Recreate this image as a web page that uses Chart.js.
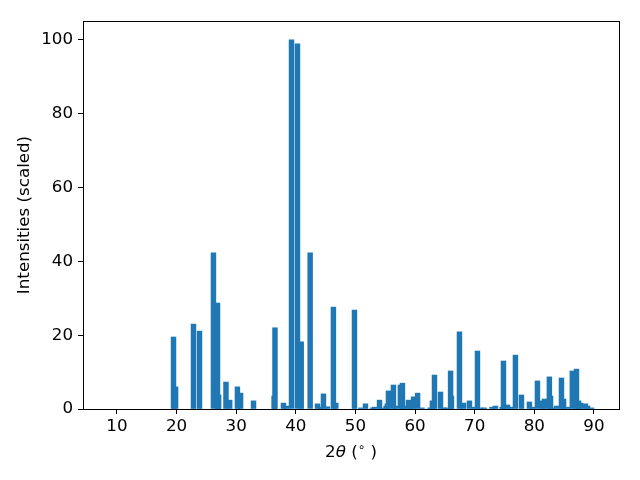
<!DOCTYPE html>
<html>
<head>
<meta charset="utf-8">
<script src="https://cdn.jsdelivr.net/npm/chart.js@4"></script>
<style>
  html, body { margin: 0; padding: 0; background: #fff; }
  canvas { display: block; }
</style>
</head>
<body>
<canvas id="xrd" width="640" height="480"></canvas>
<script>
// peak positions (2theta, degrees) and scaled intensities
const twoTheta = [
  19.48, 19.83, 22.83, 23.84, 26.18, 26.86, 27.05, 28.28, 28.9, 30.2, 30.73, 32.9,
  36.35, 36.5, 37.92, 38.44, 39.27, 40.27, 40.9, 42.4, 43.63, 44.1, 44.63, 45.3,
  46.3, 46.7, 49.83, 50.9, 51.68, 52.85, 53.2, 54.03, 54.38, 55.15, 55.35, 55.53,
  56.37, 56.72, 57.53, 57.88, 58.23, 58.9, 59.24, 59.74, 60.42, 61.15, 62.5, 62.9,
  63.25, 64.26, 64.8, 65.3, 65.95, 66.1, 67.44, 68.13, 69.12, 70.0, 70.46, 71.0,
  71.6, 72.9, 73.48, 74.6, 74.82, 75.5, 76.0, 76.83, 77.84, 79.18, 79.7, 80.52,
  81.3, 81.7, 82.52, 82.72, 83.05, 83.73, 84.55, 84.9, 85.57, 86.37, 87.07, 87.41,
  87.75, 88.57, 88.93, 89.6
];
const intensity = [
  19.5, 6.0, 23.0, 21.1, 42.3, 28.7, 3.8, 7.3, 2.4, 6.0, 4.3, 2.2,
  3.5, 22.0, 1.6, 0.8, 100, 98.9, 18.2, 42.3, 1.4, 0.5, 4.1, 0.6,
  27.6, 1.6, 26.8, 0.3, 1.4, 0.3, 0.5, 2.4, 0.3, 0.8, 1.4, 4.9,
  6.5, 0.8, 6.5, 7.0, 0.8, 2.4, 1.6, 3.3, 4.3, 0.3, 0.3, 2.2,
  9.2, 4.6, 0.3, 0.3, 10.3, 3.5, 20.9, 1.6, 2.2, 0.5, 15.7, 0.3,
  0.3, 0.5, 0.8, 0.5, 13.0, 1.1, 0.5, 14.6, 3.8, 1.9, 0.5, 7.6,
  2.2, 2.7, 8.7, 3.5, 0.3, 0.8, 8.4, 2.7, 0.5, 10.3, 10.8, 2.2,
  1.6, 1.4, 0.8, 0.3
];
const xTicks = [10, 20, 30, 40, 50, 60, 70, 80, 90];
const yTicks = [0, 20, 40, 60, 80, 100];

const FONT = "'DejaVu Sans', sans-serif";
const FS = 16.7;

// black frame round the plot area + the x label with italic theta and raised degree ring
const decorations = {
  id: "decorations",
  afterDraw(chart) {
    const a = chart.chartArea;
    const ctx = chart.ctx;
    ctx.save();
    ctx.strokeStyle = "#000";
    ctx.lineWidth = 1;
    ctx.strokeRect(Math.round(a.left) + 0.5, Math.round(a.top) + 0.5,
      Math.round(a.right - a.left), Math.round(a.bottom - a.top));

    const parts = [
      { t: "2", f: `${FS}px ${FONT}`, dy: 0 },
      { t: "θ", f: `italic ${FS}px ${FONT}`, dy: 0 },
      { t: " (", f: `${FS}px ${FONT}`, dy: 0 },
      { t: "∘", f: `${FS * 0.7}px ${FONT}`, dy: -6 },
      { t: " )", f: `${FS}px ${FONT}`, dy: 0 }
    ];
    let total = 0;
    parts.forEach(p => { ctx.font = p.f; p.w = ctx.measureText(p.t).width; total += p.w; });
    let x = (a.left + a.right) / 2 - total / 2;
    const base = 457;
    ctx.fillStyle = "#000";
    ctx.textBaseline = "alphabetic";
    ctx.textAlign = "left";
    parts.forEach(p => { ctx.font = p.f; ctx.fillText(p.t, x, base + p.dy); x += p.w; });
    ctx.restore();
  }
};

const points = twoTheta.map((t, i) => ({ x: t, y: intensity[i] }));

new Chart(document.getElementById("xrd").getContext("2d"), {
  type: "bar",
  data: {
    datasets: [{
      data: points,
      backgroundColor: "#1f77b4",
      borderWidth: 0,
      barThickness: 4.8
    }]
  },
  options: {
    responsive: false,
    animation: false,
    devicePixelRatio: 1,
    layout: { padding: { top: 21, right: 21, left: 0, bottom: 0 } },
    plugins: { legend: { display: false }, tooltip: { enabled: false } },
    scales: {
      x: {
        type: "linear",
        min: 4.3,
        max: 94.2,
        offset: false,
        afterBuildTicks: (s) => { s.ticks = xTicks.map(v => ({ value: v })); },
        afterFit: (s) => { s.height = 71; },
        grid: { offset: false, drawOnChartArea: false, drawTicks: true, tickLength: 5, tickColor: "#000" },
        border: { display: false },
        ticks: { color: "#000", font: { family: FONT, size: FS }, padding: 3, maxRotation: 0 }
      },
      y: {
        min: 0,
        max: 105.1,
        afterBuildTicks: (s) => { s.ticks = yTicks.map(v => ({ value: v })); },
        afterFit: (s) => { s.width = 83; },
        grid: { drawOnChartArea: false, drawTicks: true, tickLength: 5, tickColor: "#000" },
        border: { display: false },
        ticks: { color: "#000", font: { family: FONT, size: FS }, padding: 5 },
        title: {
          display: true,
          text: "Intensities (scaled)",
          color: "#000",
          font: { family: FONT, size: FS },
          padding: { top: 15, bottom: 15 }
        }
      }
    }
  },
  plugins: [decorations]
});
</script>
</body>
</html>
